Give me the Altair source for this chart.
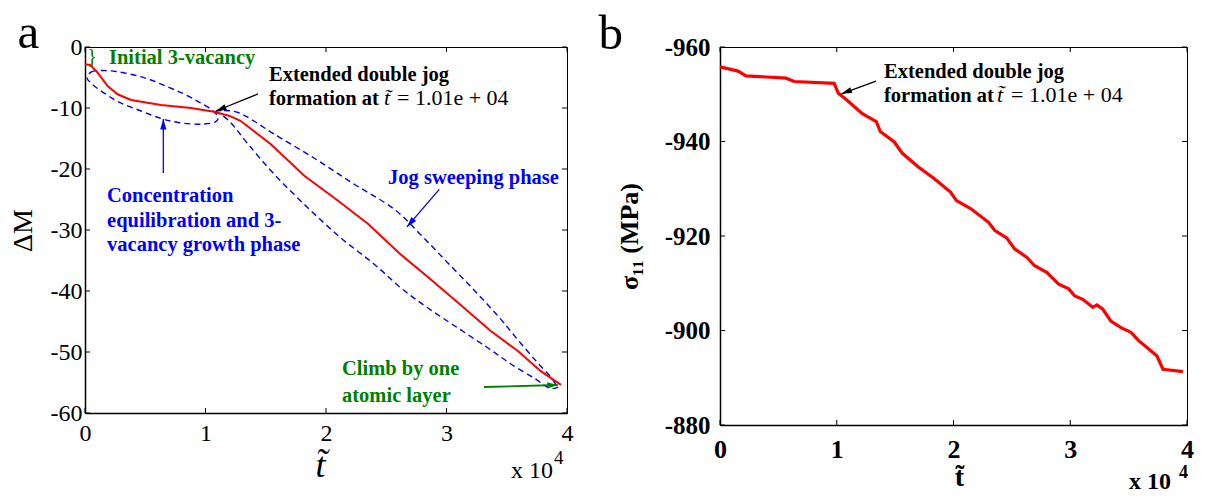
import math
import altair as alt
import pandas as pd

FONT = "Liberation Serif"
RED = "#FF0000"
BLUE = "#0000FF"
GREEN = "#007F00"
BLACK = "#000000"

# ---------------- Panel a data (t in units of 1e4) ----------------
a_t = [0, 0.044, 0.105, 0.188, 0.271, 0.382, 0.631, 0.88, 1.07, 1.20, 1.29, 1.54,
       1.82, 2.10, 2.35, 2.62, 2.85, 3.06, 3.37, 3.59, 3.78, 3.95]
a_dM = [-2.84, -2.95, -4.2, -6.4, -7.75, -8.69, -9.5, -10.0, -10.6, -11.3, -12.1, -15.9,
        -21.1, -25.2, -29.0, -34.0, -37.8, -41.3, -46.6, -49.8, -53.1, -55.4]

# dashed outline 1 (concentration equilibration phase)
e1_t = [0.017, 0.050, 0.133, 0.257, 0.407, 0.548, 0.689, 0.822, 0.946, 1.054, 1.104,
        1.079, 0.988, 0.880, 0.755, 0.631, 0.465, 0.282, 0.133, 0.050]
e1_M = [-5.08, -4.10, -3.85, -4.02, -4.59, -5.41, -6.56, -7.70, -9.02, -10.33, -11.48,
        -12.30, -12.62, -12.62, -12.30, -11.72, -10.49, -9.02, -7.21, -5.90]

# dashed outline 2 (jog sweeping phase)
e2_t = [1.062, 1.154, 1.270, 1.402, 1.568, 1.900, 2.232, 2.564, 2.788, 3.012, 3.228,
        3.427, 3.593, 3.743, 3.851, 3.900, 3.925, 3.851, 3.726, 3.535, 3.344, 3.095,
        2.846, 2.622, 2.398, 2.124, 1.851, 1.568, 1.353, 1.212, 1.120]
e2_M = [-10.66, -10.41, -10.74, -12.13, -14.26, -18.20, -22.46, -26.56, -30.82, -35.41,
        -39.84, -44.10, -48.03, -51.48, -53.77, -55.08, -55.74, -55.90, -54.26, -51.97,
        -49.34, -46.07, -42.79, -39.51, -35.57, -31.31, -26.39, -20.82, -15.90, -12.46,
        -10.98]

a_xticks = [0, 1, 2, 3, 4]
a_yticks = [0, -10, -20, -30, -40, -50, -60]

# ---------------- Panel b data ----------------
b_t = [0, 0.154, 0.223, 0.566, 0.635, 0.978, 1.013, 1.081, 1.219, 1.339, 1.373, 1.493,
       1.562, 1.699, 1.836, 1.974, 2.025, 2.146, 2.300, 2.352, 2.455, 2.523, 2.626, 2.695,
       2.798, 2.901, 2.987, 3.039, 3.107, 3.193, 3.228, 3.279, 3.348, 3.434, 3.520, 3.588,
       3.657, 3.743, 3.794, 3.965]
b_sig = [-955.8, -954.9, -953.9, -953.4, -952.7, -952.3, -950.2, -948.9, -945.9, -944.2,
         -942.1, -939.9, -937.5, -934.6, -932.1, -929.3, -927.5, -925.8, -922.9, -921.2,
         -919.6, -917.3, -915.5, -913.7, -912.3, -909.8, -908.8, -907.3, -906.6, -904.9,
         -905.4, -904.5, -902.0, -900.6, -899.6, -897.8, -896.4, -894.6, -891.8, -891.3]

b_xticks = [0, 1, 2, 3, 4]
b_yticks = [-960, -940, -920, -900, -880]

WA, HA = 482, 366
WB, HB = 467, 378
TT = "t\u0303"
AF = 20.5  # annotation font size


def xa(f):
    return alt.X(f"{f}:Q", scale=alt.Scale(domain=[0, 4], nice=False, zero=False),
                 axis=alt.Axis(values=a_xticks, format="d", title=TT, titleFontStyle="italic",
                               titleFont=FONT, labelFont=FONT,
                               titleFontWeight="normal", titleFontSize=36, titlePadding=3,
                               titleX=235, labelFontSize=24, labelPadding=8, labelFlush=False,
                               labelOverlap=False, tickSize=0, domainWidth=1.5))


def ya(f):
    return alt.Y(f"{f}:Q", scale=alt.Scale(domain=[-60, 0], nice=False, zero=False),
                 axis=alt.Axis(values=a_yticks,
                               labelExpr="datum.value == 0 ? '0' : '-' + abs(datum.value)",
                               title="\u0394M", titleFont=FONT, labelFont=FONT,
                               titleFontWeight="normal", titleFontSize=28,
                               titleX=-48, titleY=HA / 2, labelFontSize=24, labelPadding=3,
                               labelOverlap=False, labelFlush=False, tickSize=0, domainWidth=1.5))


def xb(f):
    return alt.X(f"{f}:Q", scale=alt.Scale(domain=[0, 4], nice=False, zero=False),
                 axis=alt.Axis(values=b_xticks, format="d", title=TT, titleFontWeight="bold",
                               titleFont=FONT, labelFont=FONT,
                               titleFontSize=28, titlePadding=1, titleX=239, labelFontSize=26,
                               labelFontWeight="bold", labelPadding=11, labelFlush=False,
                               labelOverlap=False, tickSize=0, domainWidth=1.5))


def yb(f):
    return alt.Y(f"{f}:Q", scale=alt.Scale(domain=[-960, -880], nice=False, zero=False, reverse=True),
                 axis=alt.Axis(values=b_yticks, labelExpr="'-' + abs(datum.value)",
                               title="\u03c3\u2081\u2081 (MPa)", titleFontWeight="bold",
                               titleFont=FONT, labelFont=FONT,
                               titleFontSize=26, titleX=-78, titleY=HB / 2, labelFontSize=25,
                               labelFontWeight="bold", labelPadding=10, labelOverlap=False,
                               labelFlush=False, tickSize=0, domainWidth=1.5))


def txt(xe, ye, x, y, text, size, color=BLACK, weight="bold", style="normal",
        baseline="alphabetic", line_height=None):
    kw = dict(text=text, font=FONT, fontSize=size, fontWeight=weight, fontStyle=style,
              fill=color, align="left", baseline=baseline)
    if line_height:
        kw["lineHeight"] = line_height
    return alt.Chart(pd.DataFrame({"x": [x], "y": [y]})).mark_text(**kw).encode(
        x=xe("x"), y=ye("y"))


def arrow(xe, ye, kx, ky, x1, y1, x2, y2, color, width=1.3, head=110):
    seg = alt.Chart(pd.DataFrame({"x": [x1], "y": [y1], "x2": [x2], "y2": [y2]})).mark_rule(
        color=color, strokeWidth=width).encode(x=xe("x"), y=ye("y"), x2="x2:Q", y2="y2:Q")
    dx = (x2 - x1) * kx
    dy = (y2 - y1) * ky
    ang = math.degrees(math.atan2(dx, -dy)) % 360
    L = math.hypot(dx, dy)
    back = math.sqrt(head) / 2
    pt = alt.Chart(pd.DataFrame({"x": [x2], "y": [y2]})).mark_point(
        shape="M0,-1L-0.6,1L0.6,1Z", filled=True, size=head, angle=ang, color=color,
        opacity=1, strokeWidth=0, xOffset=-dx / L * back, yOffset=-dy / L * back
    ).encode(x=xe("x"), y=ye("y"))
    return [seg, pt]


def inner_ticks(xe, ye, xt, yt, xlo, xhi, ylo, yhi):
    """Short inward ticks on all four sides of the frame (MATLAB style)."""
    out = []
    L = 5
    for xv, off in ((xlo, L / 2), (xhi, -L / 2)):
        d = pd.DataFrame({"x": [xv] * len(yt), "y": yt})
        out.append(alt.Chart(d).mark_tick(orient="horizontal", size=L, thickness=1,
                                          color=BLACK, opacity=1, xOffset=off).encode(
            x=xe("x"), y=ye("y")))
    for yv, off in ((ylo, -L / 2), (yhi, L / 2)):
        d = pd.DataFrame({"x": xt, "y": [yv] * len(xt)})
        out.append(alt.Chart(d).mark_tick(orient="vertical", size=L, thickness=1,
                                          color=BLACK, opacity=1, yOffset=off).encode(
            x=xe("x"), y=ye("y")))
    return out


KXA, KYA = WA / 4, -HA / 60
KXB, KYB = WB / 4, HB / 80

# ---------------- Panel a ----------------
df_a = pd.DataFrame({"t": a_t, "M": a_dM})
line_a = alt.Chart(df_a).mark_line(color=RED, strokeWidth=2).encode(x=xa("t"), y=ya("M"))

df_e1 = pd.DataFrame({"t": e1_t, "M": e1_M, "i": list(range(len(e1_t)))})
ell1 = alt.Chart(df_e1).mark_line(color=BLUE, strokeWidth=1.4, strokeDash=[6, 4],
                                  interpolate="cardinal-closed").encode(
    x=xa("t"), y=ya("M"), order="i:Q")
df_e2 = pd.DataFrame({"t": e2_t, "M": e2_M, "i": list(range(len(e2_t)))})
ell2 = alt.Chart(df_e2).mark_line(color=BLUE, strokeWidth=1.4, strokeDash=[6, 4],
                                  interpolate="cardinal-closed").encode(
    x=xa("t"), y=ya("M"), order="i:Q")

layers_a = [ell1, ell2, line_a]
layers_a += inner_ticks(xa, ya, a_xticks, a_yticks, 0, 4, -60, 0)
layers_a += arrow(xa, ya, KXA, KYA, 1.436, -7.70, 1.087, -10.49, BLACK)
layers_a += arrow(xa, ya, KXA, KYA, 0.65, -20.66, 0.65, -11.80, BLUE)
layers_a += arrow(xa, ya, KXA, KYA, 2.940, -23.33, 2.672, -29.5, BLUE)
layers_a += arrow(xa, ya, KXA, KYA, 3.311, -55.74, 3.923, -55.41, GREEN, width=1.8)
layers_a += [
    txt(xa, ya, -0.56, -0.16, "a", 49, weight="normal"),
    txt(xa, ya, 0.017, -1.64, "}", 21, color=GREEN, weight="normal", baseline="middle"),
    txt(xa, ya, 0.199, -2.79, "Initial 3-vacancy", AF, color=GREEN),
    txt(xa, ya, 1.527, -5.57, "Extended double jog", AF),
    txt(xa, ya, 1.527, -9.51, "formation at", AF),
    txt(xa, ya, 2.481, -9.51, TT, 22, weight="normal", style="italic"),
    txt(xa, ya, 2.589, -9.51, "= 1.01e + 04", 22, weight="normal"),
    txt(xa, ya, 0.183, -25.41, ["Concentration", "equilibration and 3-", "vacancy growth phase"],
        AF, color=BLUE, line_height=24.5),
    txt(xa, ya, 2.515, -22.46, "Jog sweeping phase", AF, color=BLUE),
    txt(xa, ya, 2.133, -53.77, ["Climb by one", "atomic layer"], AF, color=GREEN, line_height=27),
    txt(xa, ya, 3.535, -70.66, "x 10", 24, weight="normal"),
    txt(xa, ya, 3.892, -68.36, "4", 19, weight="normal"),
]
panel_a = alt.layer(*layers_a).properties(width=WA, height=HA)

# ---------------- Panel b ----------------
df_b = pd.DataFrame({"t": b_t, "s": b_sig})
line_b = alt.Chart(df_b).mark_line(color=RED, strokeWidth=3.2).encode(x=xb("t"), y=yb("s"))
layers_b = [line_b]
layers_b += inner_ticks(xb, yb, b_xticks, b_yticks, 0, 4, -880, -960)
layers_b += arrow(xb, yb, KXB, KYB, 1.336, -952.8, 1.040, -950.1, BLACK)
layers_b += [
    txt(xb, yb, -1.04, -959.6, "b", 49, weight="normal"),
    txt(xb, yb, 1.405, -953.4, "Extended double jog", AF),
    txt(xb, yb, 1.405, -948.4, "formation at", AF),
    txt(xb, yb, 2.373, -948.4, TT, 22, weight="normal", style="italic"),
    txt(xb, yb, 2.493, -948.4, "= 1.01e + 04", 22, weight="normal"),
    txt(xb, yb, 3.503, -866.5, "x 10", 24),
    txt(xb, yb, 3.931, -868.8, "4", 18),
]
panel_b = alt.layer(*layers_b).properties(width=WB, height=HB)

chart = alt.hconcat(panel_a, panel_b, spacing=153, bounds="flush").properties(
    padding={"left": 0, "top": 0, "right": 0, "bottom": 0}
).configure(font=FONT).configure_view(stroke=BLACK, strokeWidth=1).configure_axis(
    grid=False, domainColor=BLACK, tickColor=BLACK, labelColor=BLACK, titleColor=BLACK,
    labelFont=FONT, titleFont=FONT
)

chart.save("out.html", embed_options={"renderer": "svg", "actions": False})
